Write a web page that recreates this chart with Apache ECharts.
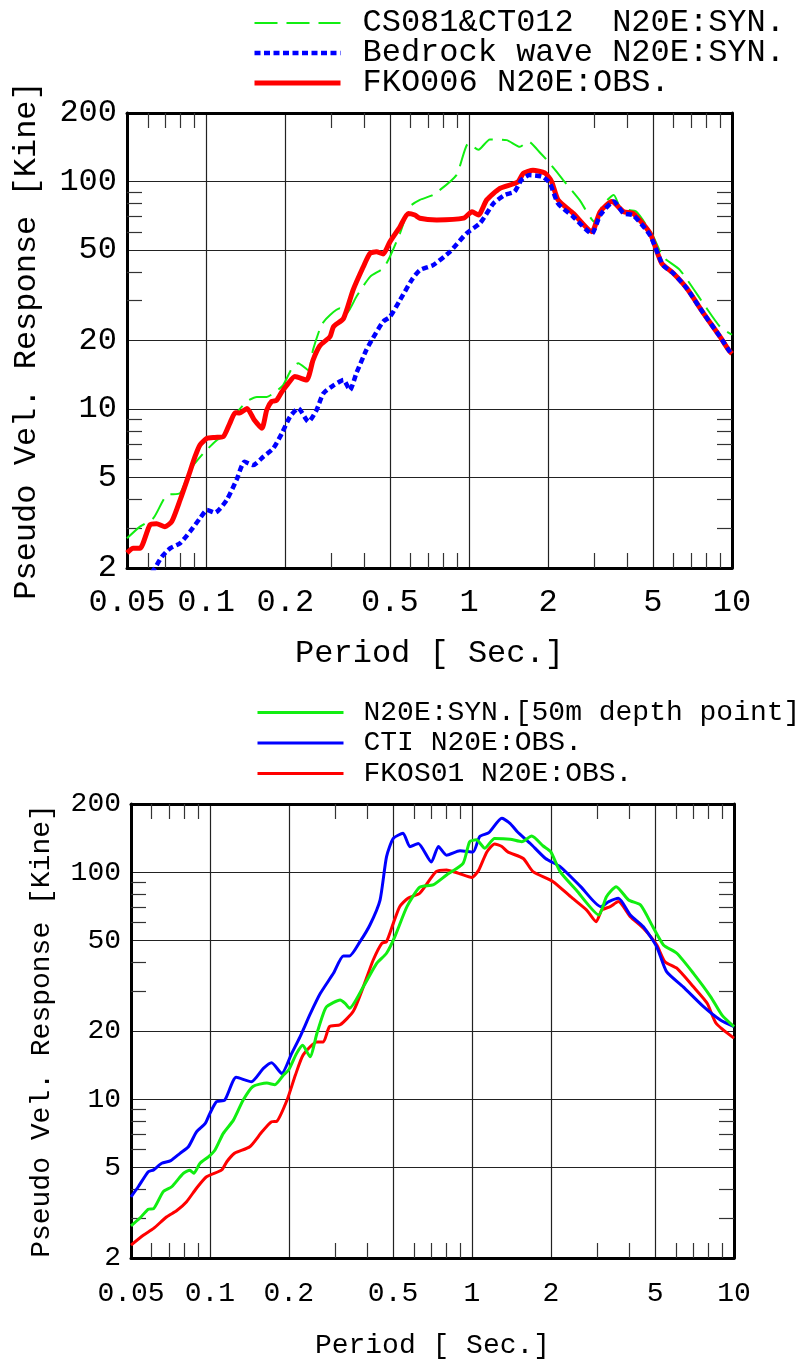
<!DOCTYPE html>
<html><head><meta charset="utf-8">
<script src="https://cdn.jsdelivr.net/npm/echarts@6/dist/echarts.min.js"></script>
<style>html,body{margin:0;padding:0;background:#fff}#c{width:800px;height:1360px}</style>
</head><body><div id="c"></div><script>
// ---- tick definitions ----
const xLabels = [0.05, 0.1, 0.2, 0.5, 1, 2, 5, 10];
const xGrid = [0.1, 0.2, 0.5, 1, 2, 5];
const xMinor = [0.06, 0.07, 0.08, 0.09, 0.3, 0.4, 0.6, 0.7, 0.8, 0.9, 3, 4, 6, 7, 8, 9];
const yLabels = [2, 5, 10, 20, 50, 100, 200];
const yGrid = [5, 10, 20, 50, 100];
const yMinor = [3, 4, 6, 7, 8, 9, 30, 40, 60, 70, 80, 90];

// ---- names ----
const topNames = ['CS081&CT012  N20E:SYN.', 'Bedrock wave N20E:SYN.', 'FKO006 N20E:OBS.'];
const botNames = ['N20E:SYN.[50m depth point]', 'CTI N20E:OBS.', 'FKOS01 N20E:OBS.'];

// ---- top chart data: [period (s), pseudo velocity (kine)] ----
const topSyn = [[0.05,2.7],[0.056,3.04],[0.063,3.31],[0.0707,4.18],[0.0796,4.27],[0.0868,5.39],[0.0975,6.38],[0.11,7.31],[0.116,7.55],[0.127,9.25],[0.143,10.8],[0.156,11.3],[0.17,11.3],[0.18,11.7],[0.196,12.7],[0.212,15.1],[0.224,15.9],[0.245,14.8],[0.255,18.2],[0.275,23.5],[0.296,25.9],[0.323,27.7],[0.342,26.4],[0.373,31.2],[0.42,38.1],[0.471,41.5],[0.5,46.7],[0.546,59.2],[0.595,77.5],[0.65,83],[0.73,87.3],[0.895,106.7],[0.994,147],[1.086,138],[1.2,153],[1.39,152],[1.56,142],[1.68,150],[1.87,133],[2.03,120],[2.28,101.5],[2.63,83],[3.0,66.5],[3.23,78.9],[3.55,87.3],[3.78,76],[4.33,73.6],[5.02,57.2],[5.46,46.7],[6.34,40.8],[7.78,29.1],[9.0,23],[10,21.2]];
const topBed = [[0.062,1.9],[0.0639,2.0],[0.0678,2.24],[0.0729,2.44],[0.0796,2.57],[0.0868,2.89],[0.0948,3.31],[0.1008,3.6],[0.108,3.5],[0.1197,3.98],[0.1305,4.88],[0.14,5.86],[0.151,5.67],[0.165,6.17],[0.18,6.71],[0.194,7.81],[0.2085,9.25],[0.224,10.07],[0.245,8.8],[0.263,9.9],[0.279,11.7],[0.305,12.7],[0.333,13.4],[0.352,12.1],[0.373,14.4],[0.407,18.2],[0.43,20.4],[0.471,24.2],[0.5,25.4],[0.546,30.1],[0.605,36.9],[0.65,40.8],[0.73,42.9],[0.845,49.1],[0.978,59.2],[1.1,65.5],[1.24,80.2],[1.37,87.3],[1.49,90.2],[1.58,101.5],[1.7,106.7],[1.9,105],[2.03,98.2],[2.18,80],[2.49,70],[2.93,59],[3.15,71],[3.55,81.6],[3.87,72.4],[4.21,71],[4.88,58],[5.46,42.9],[5.98,39.5],[6.73,33.9],[7.78,26.4],[9.0,20.8],[9.7,18.2],[10,17.3]];
const topObs = [[0.05,2.33],[0.0528,2.44],[0.056,2.44],[0.0611,3.09],[0.0648,3.13],[0.0697,3.04],[0.074,3.2],[0.0796,3.98],[0.0855,5.04],[0.0907,6.17],[0.0948,6.95],[0.1008,7.43],[0.108,7.5],[0.116,7.55],[0.123,8.65],[0.129,9.63],[0.134,9.6],[0.143,10.05],[0.152,9.0],[0.163,8.23],[0.17,9.9],[0.1775,10.8],[0.185,10.9],[0.194,11.9],[0.2025,12.7],[0.2175,13.9],[0.241,13.4],[0.255,16.4],[0.271,19.0],[0.296,20.8],[0.305,23],[0.333,25.0],[0.362,33.3],[0.396,42.2],[0.42,48.3],[0.444,49.1],[0.471,48],[0.5,54.3],[0.546,63.2],[0.587,72.4],[0.622,71.2],[0.65,68.9],[0.753,67.8],[0.953,69],[1.026,73.6],[1.086,71.2],[1.167,83],[1.31,93.3],[1.47,97.5],[1.54,100],[1.61,108.7],[1.75,112],[1.94,109],[2.06,100],[2.18,83],[2.49,72.4],[2.93,60.2],[3.15,73.6],[3.49,81.6],[3.87,73.6],[4.21,72.4],[4.88,59.2],[5.4,43.7],[5.98,39.5],[6.73,33.9],[7.78,26.4],[9.0,20.8],[9.7,18.2],[10,17.5]];

// ---- bottom chart data ----
const botSyn = [[0.05,2.77],[0.0541,3.0],[0.0582,3.28],[0.061,3.3],[0.0664,3.92],[0.0715,4.12],[0.0792,4.72],[0.0839,4.87],[0.0868,4.72],[0.0917,5.23],[0.0987,5.58],[0.1046,5.98],[0.1125,7.08],[0.123,8.1],[0.134,9.93],[0.146,11.4],[0.165,11.8],[0.177,11.6],[0.191,12.8],[0.2,13.5],[0.214,15.9],[0.226,17.3],[0.241,15.4],[0.256,19.5],[0.271,23.9],[0.279,25.6],[0.314,27.4],[0.328,26.5],[0.341,25.2],[0.385,31.3],[0.433,39.7],[0.472,44],[0.508,52.1],[0.565,70.6],[0.632,86],[0.71,88],[0.8,97.4],[0.925,109.6],[0.98,136.5],[1.04,139],[1.12,127.7],[1.22,141],[1.4,140],[1.55,136.5],[1.69,144.5],[1.87,130.6],[2.0,123],[2.17,100.7],[2.5,83.5],[3.05,64.9],[3.26,78.1],[3.55,86.5],[3.96,75.5],[4.4,71.8],[4.9,57.6],[5.38,47.9],[6.05,44],[7.0,35.9],[8.15,28.3],[9.0,23.5],[10,20.9]];
const botCti = [[0.05,3.72],[0.0533,4.12],[0.0582,4.8],[0.061,4.89],[0.0655,5.23],[0.0709,5.37],[0.0769,5.78],[0.0828,6.18],[0.0889,7.19],[0.096,7.83],[0.1,8.67],[0.106,9.77],[0.114,9.93],[0.126,12.5],[0.144,11.96],[0.16,13.7],[0.172,14.5],[0.188,13.0],[0.205,15.9],[0.221,18.9],[0.242,23.9],[0.264,29.3],[0.296,35.9],[0.323,42.8],[0.341,42.8],[0.374,49.5],[0.408,58.6],[0.446,75.5],[0.472,117],[0.501,141],[0.546,148.6],[0.58,129.7],[0.624,134],[0.7,111],[0.745,130],[0.8,119],[0.9,124.5],[1.01,123],[1.07,143.6],[1.16,149.5],[1.3,173],[1.4,164],[1.49,151],[1.67,134],[1.91,115],[2.17,106],[2.6,86.5],[3.1,70.6],[3.33,74.3],[3.62,76.9],[4.02,64.9],[4.51,57.6],[5.07,47],[5.53,36.5],[6.4,31.3],[7.65,25.6],[8.9,22.3],[10,20.9]];
const botObs = [[0.05,2.28],[0.0557,2.52],[0.061,2.7],[0.0685,3.04],[0.0746,3.23],[0.0815,3.54],[0.0889,4.06],[0.0971,4.56],[0.111,4.89],[0.116,5.31],[0.124,5.78],[0.142,6.18],[0.158,7.19],[0.172,7.96],[0.18,8.0],[0.197,9.93],[0.212,12.8],[0.227,15.7],[0.256,17.9],[0.271,17.9],[0.286,20.9],[0.314,21.3],[0.353,24.5],[0.385,31.3],[0.42,41.1],[0.453,48.7],[0.472,49.5],[0.501,59.6],[0.53,70.6],[0.57,76.9],[0.632,80.9],[0.73,100.7],[0.8,102.4],[0.89,99],[1.0,95],[1.06,102],[1.14,123],[1.22,133.4],[1.3,130],[1.37,123],[1.57,115],[1.71,100.7],[2.04,91],[2.38,78.1],[2.74,68.2],[2.98,60.6],[3.13,68.2],[3.37,70.6],[3.62,74.3],[4.02,63.8],[4.51,56.7],[5.07,47.9],[5.45,40.4],[6.05,37.8],[7.0,31.3],[7.9,26.5],[8.55,21.6],[10,18.6]];

const FONT = "'Liberation Mono', 'DejaVu Sans Mono', monospace";
const fmt = v => String(Number(Number(v).toPrecision(6)));
const frameLine = { show: true, onZero: false, lineStyle: { color: '#000', width: 3 } };
const tickStyle = { color: '#333', width: 1.2 };
const gridStyle = { color: '#222', width: 1.2 };

function xAxes(gi, fs, margin, gap) {
  const base = { gridIndex: gi, type: 'log', logBase: 10, min: 0.05, max: 10, minorTick: { show: false }, minorSplitLine: { show: false } };
  return [
    Object.assign({}, base, {
      position: 'bottom', name: 'Period [ Sec.]', nameLocation: 'middle', nameGap: gap, nameMoveOverlap: false,
      nameTextStyle: { fontFamily: FONT, fontSize: fs, color: '#000' },
      axisLine: frameLine,
      axisTick: { show: true, inside: true, length: 15, customValues: xMinor, lineStyle: tickStyle },
      axisLabel: { show: true, customValues: xLabels, margin: margin, fontFamily: FONT, fontSize: fs, color: '#000', formatter: fmt, hideOverlap: false },
      splitLine: { show: false }
    }),
    Object.assign({}, base, {
      position: 'top', axisLine: frameLine,
      axisTick: { show: true, inside: true, length: 15, customValues: xMinor, lineStyle: tickStyle },
      axisLabel: { show: false }, splitLine: { show: false }
    }),
    Object.assign({}, base, {
      position: 'bottom', axisLine: { show: false },
      axisTick: { show: false, customValues: xGrid },
      axisLabel: { show: false }, splitLine: { show: true, lineStyle: gridStyle }
    })
  ];
}
function yAxes(gi, fs, margin, gap) {
  const base = { gridIndex: gi, type: 'log', logBase: 10, min: 2, max: 200, minorTick: { show: false }, minorSplitLine: { show: false } };
  return [
    Object.assign({}, base, {
      position: 'left', name: 'Pseudo Vel. Response [Kine]', nameLocation: 'middle', nameGap: gap, nameMoveOverlap: false,
      nameTextStyle: { fontFamily: FONT, fontSize: fs, color: '#000' },
      axisLine: frameLine,
      axisTick: { show: true, inside: true, length: 15, customValues: yMinor, lineStyle: tickStyle },
      axisLabel: { show: true, customValues: yLabels, margin: margin, fontFamily: FONT, fontSize: fs, color: '#000', formatter: fmt, hideOverlap: false },
      splitLine: { show: false }
    }),
    Object.assign({}, base, {
      position: 'right', axisLine: frameLine,
      axisTick: { show: true, inside: true, length: 15, customValues: yMinor, lineStyle: tickStyle },
      axisLabel: { show: false }, splitLine: { show: false }
    }),
    Object.assign({}, base, {
      position: 'left', axisLine: { show: false },
      axisTick: { show: false, customValues: yGrid },
      axisLabel: { show: false }, splitLine: { show: true, lineStyle: gridStyle }
    })
  ];
}
function line(name, data, xi, yi, color, width, type, z) {
  return { name: name, type: 'line', xAxisIndex: xi, yAxisIndex: yi, data: data, symbol: 'none', smooth: 0.2,
    lineStyle: { color: color, width: width, type: type, cap: 'butt' }, itemStyle: { color: color }, z: z, animation: false };
}

const chart = echarts.init(document.getElementById('c'), null, { renderer: 'canvas' });
chart.setOption({
  animation: false,
  backgroundColor: '#fff',
  grid: [
    { left: 127, top: 113, width: 605, height: 455, outerBoundsMode: 'none', containLabel: false },
    { left: 131, top: 804, width: 603, height: 454, outerBoundsMode: 'none', containLabel: false }
  ],
  xAxis: xAxes(0, 32, 19, 70).concat(xAxes(1, 28, 22, 74)),
  yAxis: yAxes(0, 32, 10, 84).concat(yAxes(1, 28, 10, 75)),
  legend: [
    { data: topNames, left: 247, top: 2, orient: 'vertical', itemWidth: 86, itemHeight: 14, itemGap: -2, selectedMode: false,
      itemStyle: { opacity: 0 }, lineStyle: { width: 'inherit' },
      textStyle: { fontFamily: FONT, fontSize: 32, lineHeight: 29, color: '#000', padding: [0, 0, 0, 17] } },
    { data: botNames, left: 251, top: 693, orient: 'vertical', itemWidth: 86, itemHeight: 14, itemGap: 1.5, selectedMode: false,
      itemStyle: { opacity: 0 }, lineStyle: { width: 'inherit' },
      textStyle: { fontFamily: FONT, fontSize: 28, lineHeight: 29, color: '#000', padding: [0, 0, 0, 15] } }
  ],
  series: [
    line(topNames[0], topSyn, 0, 0, '#11ee11', 2, [23, 9], 3),
    line(topNames[2], topObs, 0, 0, '#ff0000', 5, 'solid', 4),
    line(topNames[1], topBed, 0, 0, '#0000ff', 4.5, [6, 3.5], 5),
    line(botNames[2], botObs, 3, 3, '#ff0000', 3, 'solid', 3),
    line(botNames[1], botCti, 3, 3, '#0000ff', 3, 'solid', 4),
    line(botNames[0], botSyn, 3, 3, '#11ee11', 3, 'solid', 5)
  ]
});
</script></body></html>
